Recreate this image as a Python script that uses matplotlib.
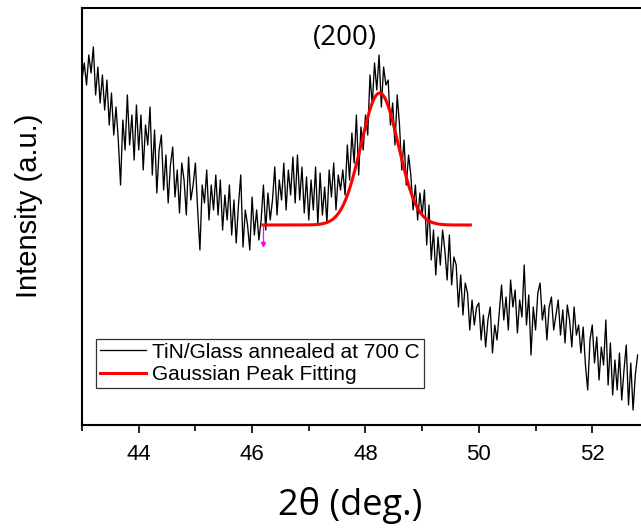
import numpy as np
import matplotlib
matplotlib.use("Agg")
import matplotlib.pyplot as plt
from matplotlib.ticker import MultipleLocator

# ---- data ----
two_theta_start = 43.00
two_theta_step = 0.04
intensity = [
    345, 362, 340, 370, 352,
    378, 330, 358, 322, 350,
    315, 345, 300, 332, 290,
    318, 285, 240, 305, 275,
    330, 280, 310, 265, 320,
    275, 310, 255, 300, 280,
    318, 250, 295, 232, 275,
    290, 235, 270, 222, 260,
    278, 228, 255, 212, 262,
    245, 210, 268, 225, 240,
    262, 215, 175, 240, 222,
    255, 205, 240, 215, 250,
    210, 245, 195, 230, 205,
    240, 190, 225, 182, 220,
    250, 178, 215, 200, 175,
    228, 190, 215, 185, 205,
    240, 195, 232, 205, 225,
    258, 210, 245, 225, 262,
    215, 255, 230, 268, 222,
    270, 225, 258, 212, 248,
    205, 245, 215, 258, 200,
    252, 210, 238, 202, 255,
    228, 262, 215, 250, 235,
    255, 230, 280, 245, 292,
    262, 310, 250, 298, 275,
    310, 290, 350, 320, 362,
    335, 370, 318, 358, 340,
    345, 300, 322, 280, 330,
    300, 255, 285, 240, 270,
    250, 215, 240, 205, 232,
    210, 235, 180, 220, 165,
    195, 150, 188, 160, 195,
    175, 145, 190, 140, 168,
    160, 118, 150, 110, 142,
    132, 95, 125, 100, 118,
    122, 85, 110, 78, 105,
    118, 72, 100, 85, 112,
    140, 105, 128, 95, 145,
    118, 135, 92, 125, 108,
    160, 100, 130, 70, 118,
    95, 132, 142, 105, 120,
    85, 118, 128, 95, 110,
    125, 90, 115, 82, 120,
    105, 78, 118, 90, 100,
    72, 98, 60, 35, 85,
    100, 62, 88, 45, 78,
    60, 105, 40, 82, 30,
    65, 35, 72, 25, 55,
    80, 20, 62, 15, 50, 70,
]
two_theta = two_theta_start + two_theta_step * np.arange(len(intensity))

# Gaussian peak fit parameters
fit_center = 48.25
fit_sigma = 0.33
fit_amplitude = 132
fit_baseline = 200
fit_range = (46.19, 49.85)

marker_x = 46.19
marker_y = (200, 181)

xlim = (43.0, 52.86)
ylim = (0, 417)
xticks = [44, 46, 48, 50, 52]

# ---- figure ----
W, H = 641, 529
fig = plt.figure(figsize=(W / 100, H / 100), dpi=100)
ax = fig.add_axes([82 / W, 1 - 425 / H, (641 - 82) / W, (425 - 8) / H])

ax.plot(two_theta, intensity, color="black", lw=0.95,
        label="TiN/Glass annealed at 700 C", zorder=2)

xf = np.linspace(fit_range[0], fit_range[1], 400)
yf = fit_baseline + fit_amplitude * np.exp(-0.5 * ((xf - fit_center) / fit_sigma) ** 2)
ax.plot(xf, yf, color="#ff0000", lw=2.2, label="Gaussian Peak Fitting", zorder=3)

ax.plot([marker_x, marker_x], marker_y, color="#ff00ff", lw=0.9, zorder=4)
ax.plot([marker_x], [marker_y[1]], marker="v", ms=3, color="#ff00ff", zorder=4)

ax.set_xlim(*xlim)
ax.set_ylim(*ylim)
ax.set_xticks(xticks)
ax.xaxis.set_minor_locator(MultipleLocator(1))
ax.set_yticks([])
ax.spines["right"].set_visible(False)
for s in ("left", "top", "bottom"):
    ax.spines[s].set_linewidth(1.5)
ax.tick_params(axis="x", which="major", direction="out", length=6, width=1.2,
               pad=8, labelsize=16)
ax.tick_params(axis="x", which="minor", direction="out", length=4, width=1.2)
for lab in ax.get_xticklabels():
    lab.set_fontfamily(["Liberation Sans", "DejaVu Sans"])

ax.text(345 / W, 1 - 38 / H, "(200)", transform=fig.transFigure, ha="center",
        va="center", fontsize=20, family=["Open Sans", "DejaVu Sans"])

fig.text(29 / W, 1 - 206 / H, "Intensity (a.u.)", rotation=90, ha="center",
         va="center", fontsize=21, family=["Liberation Sans", "DejaVu Sans"])
fig.text(350 / W, 1 - 506 / H, "2θ (deg.)", ha="center", va="center",
         fontsize=26, family=["Open Sans", "DejaVu Sans"])

leg = ax.legend(loc="lower left", bbox_to_anchor=(96 / W, 1 - 388 / H),
                bbox_transform=fig.transFigure, borderaxespad=0,
                prop={"family": ["Liberation Sans", "DejaVu Sans"], "size": 15},
                handlelength=2.2, handletextpad=0.3, labelspacing=0.15,
                borderpad=0.2, fancybox=False, framealpha=1, frameon=True)
leg.get_frame().set_edgecolor("#333333")
leg.get_frame().set_linewidth(0.9)

fig.savefig("out.png", dpi=100)
